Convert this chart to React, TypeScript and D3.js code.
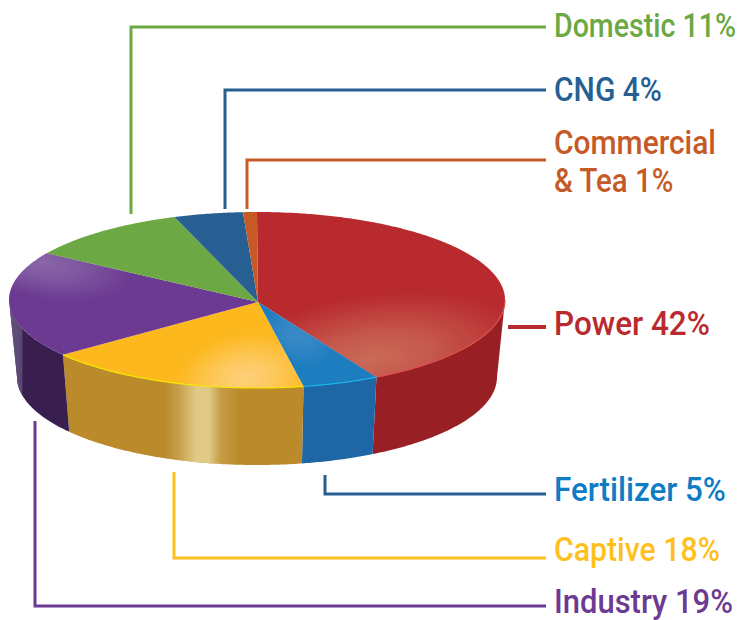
import React from "react";
import * as d3 from "d3";

const categories = ["Power", "Fertilizer", "Captive", "Industry", "Domestic", "CNG", "Commercial & Tea"];
// wedge sizes as measured on the picture (the printed percentages are in labelLines)
const shares = [42, 5, 17.3, 19.6, 10.7, 4.5, 0.9];
const topColors = ["#b92a2f", "#1c7dbf", "#fdb81e", "#6c3a92", "#6ca844", "#285f93", "#c65a27"];
const wallColors = ["#982025", "#1f66a6", "#ba8a2b", "#391f50", "#6ca844", "#285f93", "#c65a27"];
const rimColors = ["#e2504f", "#19b5e8", "#f7e700", "#7a4aa0", "#6ca844", "#285f93", "#c65a27"];
const labelLines = [["Power 42%"], ["Fertilizer 5%"], ["Captive 18%"], ["Industry 19%"], ["Domestic 11%"], ["CNG 4%"], ["Commercial", "& Tea 1%"]];
const labelColors = ["#b92a2f", "#0f7cc4", "#ffbf1c", "#6c3a92", "#6ca844", "#285f93", "#c65a27"];

const W = 740, H = 620;
const cx = 257, cy = 300, rx = 248, ry = 88;
const bx = 240, by = 377, bry = 88;
const apex: [number, number] = [258, 302];

const pie = d3.pie<number>().sort(null).value((d) => d);
const slices = pie(shares);

const topPt = (t: number): [number, number] => [cx + rx * Math.sin(t), cy - ry * Math.cos(t)];
const botPt = (t: number): [number, number] => [cx + bx * Math.sin(t), by - bry * Math.cos(t)];
const samples = (a: number, b: number) => {
  const n = Math.max(2, Math.ceil(Math.abs(b - a) / 0.01));
  return d3.range(n + 1).map((i) => a + ((b - a) * i) / n);
};
const line = d3.line();

const slicePath = (a: number, b: number) => line([apex, ...samples(a, b).map(topPt)]) + "Z";
const wallPath = (a: number, b: number) =>
  line([...samples(a, b).map(topPt), ...samples(b, a).map(botPt)]) + "Z";
const rimPath = (a: number, b: number) => line(samples(a, b).map(topPt)) || "";

const frontStart = Math.PI / 2, frontEnd = (3 * Math.PI) / 2;

// leader lines, in page pixels, one per category
const leaders: [number, number][][] = [
  [[508, 327], [546, 327]],
  [[325, 475], [325, 494], [546, 494]],
  [[174, 472], [174, 558], [546, 558]],
  [[35, 421], [35, 606], [546, 606]],
  [[131, 214], [131, 27], [546, 27]],
  [[225, 209], [225, 90], [546, 90]],
  [[247, 209], [247, 160], [546, 160]],
];
const leaderColors = ["#b92a2f", "#285f93", "#ffbf1c", "#6c3a92", "#6ca844", "#285f93", "#c65a27"];
const leaderWidths = [4, 3, 3, 3, 3, 3, 3];
const baselines = [[335], [501], [561], [612.5], [37], [101], [154, 192]];
const labelWidths = [[156], [172], [166], [179], [182], [108], [162, 120]];

const fontSize = 33;
const fontFamily = "Roboto, sans-serif";
const measureCtx = document.createElement("canvas").getContext("2d")!;
measureCtx.font = `500 ${fontSize}px ${fontFamily}`;

const glows = [
  { slice: 0, x: 372, y: 358, rx: 155, ry: 62, rot: -8, color: "#cb6e5a", o: 0.95 },
  { slice: 1, x: 298, y: 335, rx: 42, ry: 30, rot: 20, color: "#4a8fcb", o: 0.7 },
  { slice: 2, x: 245, y: 378, rx: 70, ry: 44, rot: -10, color: "#fdd07a", o: 1 },
  { slice: 3, x: 42, y: 262, rx: 90, ry: 36, rot: 10, color: "#8f6dab", o: 0.85 },
];

export default function App() {
  return (
    <svg
      width={W}
      height={H}
      viewBox={`0 0 ${W} ${H}`}
      style={{ position: "absolute", left: 0, top: 0, background: "#fff", fontFamily }}
    >
      <defs>
        {glows.map((g) => (
          <radialGradient key={g.slice} id={`glow${g.slice}`}>
            <stop offset="0%" stopColor={g.color} stopOpacity={g.o} />
            <stop offset="40%" stopColor={g.color} stopOpacity={g.o * 0.7} />
            <stop offset="100%" stopColor={g.color} stopOpacity={0} />
          </radialGradient>
        ))}
        {slices.map((s, i) => (
          <clipPath key={i} id={`clip${i}`}>
            <path d={slicePath(s.startAngle, s.endAngle)} />
          </clipPath>
        ))}
        <linearGradient id="captiveShine" gradientUnits="userSpaceOnUse" x1={165} x2={240} y1={0} y2={0}>
          <stop offset="0%" stopColor="#e3cd8c" stopOpacity={0} />
          <stop offset="20%" stopColor="#e3cd8c" stopOpacity={0.35} />
          <stop offset="42%" stopColor="#e3cd8c" stopOpacity={0.95} />
          <stop offset="58%" stopColor="#e3cd8c" stopOpacity={0.95} />
          <stop offset="75%" stopColor="#e3cd8c" stopOpacity={0.25} />
          <stop offset="100%" stopColor="#e3cd8c" stopOpacity={0} />
        </linearGradient>
        <linearGradient id="industryShine" gradientUnits="userSpaceOnUse" x1={9} x2={30} y1={0} y2={0}>
          <stop offset="0%" stopColor="#6a5a82" stopOpacity={0.9} />
          <stop offset="62%" stopColor="#5d4a78" stopOpacity={0.9} />
          <stop offset="66%" stopColor="#5d4a78" stopOpacity={0} />
        </linearGradient>
      </defs>

      {slices.map((s, i) => {
        const a = Math.max(s.startAngle, frontStart);
        const b = Math.min(s.endAngle, frontEnd);
        if (a >= b) return null;
        return (
          <g key={categories[i]}>
            <path d={wallPath(a, b)} fill={wallColors[i]} />
            {i === 2 && <path d={wallPath(a, b)} fill="url(#captiveShine)" />}
            {i === 3 && <path d={wallPath(a, b)} fill="url(#industryShine)" />}
          </g>
        );
      })}

      {slices.map((s, i) => (
        <path key={categories[i]} d={slicePath(s.startAngle, s.endAngle)} fill={topColors[i]} />
      ))}

      {glows.map((g) => (
        <g key={g.slice} clipPath={`url(#clip${g.slice})`}>
          <ellipse
            cx={g.x}
            cy={g.y}
            rx={g.rx}
            ry={g.ry}
            fill={`url(#glow${g.slice})`}
            transform={`rotate(${g.rot} ${g.x} ${g.y})`}
          />
        </g>
      ))}

      {slices.map((s, i) => {
        const a = Math.max(s.startAngle, frontStart);
        const b = Math.min(s.endAngle, frontEnd);
        if (a >= b || i === 3) return null;
        return <path key={i} d={rimPath(a, b)} fill="none" stroke={rimColors[i]} strokeWidth={1.2} />;
      })}

      {leaders.map((pts, i) => (
        <path
          key={i}
          d={line(pts) || ""}
          fill="none"
          stroke={leaderColors[i]}
          strokeWidth={leaderWidths[i]}
        />
      ))}

      {labelLines.map((rows, i) =>
        rows.map((row, j) => {
          const sx = labelWidths[i][j] / measureCtx.measureText(row).width;
          return (
            <text
              key={row}
              transform={`translate(554 ${baselines[i][j]}) scale(${sx} 1)`}
              fontSize={fontSize}
              fontWeight={500}
              fill={labelColors[i]}
            >
              {row}
            </text>
          );
        })
      )}
    </svg>
  );
}
